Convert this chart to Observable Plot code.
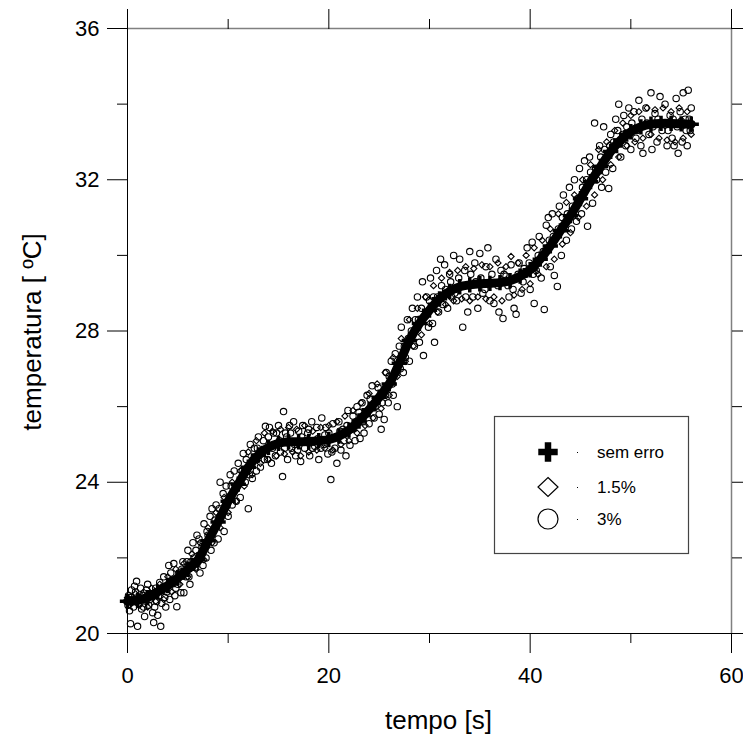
<!DOCTYPE html>
<html><head><meta charset="utf-8">
<script src="https://cdn.jsdelivr.net/npm/d3@7"></script>
<script src="https://cdn.jsdelivr.net/npm/@observablehq/plot@0.6"></script>
<style>body{margin:0;background:#fff;} #chart{width:743px;height:736px;}</style>
</head><body><div id="chart"></div>
<script>
// "sem erro" curve: time [s] and temperature [ºC]
const curveT = [0,1,2,3,4,5,6,7,8,9,10,11,12,13,14,15,16,17,18,19,20,21,22,23,24,25,26,27,28,29,30,31,32,33,34,35,36,37,38,39,40,41,42,43,44,45,46,47,48,49,50,51,52,53,54,55,56];
const curveV = [20.85,20.88,20.95,21.1,21.27,21.47,21.7,21.95,22.45,22.95,23.5,23.95,24.4,24.72,24.92,25.03,25.07,25.07,25.08,25.1,25.13,25.22,25.38,25.62,25.92,26.25,26.6,27.15,27.75,28.2,28.55,28.85,29.05,29.17,29.22,29.25,29.26,29.28,29.33,29.45,29.62,29.9,30.25,30.65,31.05,31.5,31.95,32.35,32.75,33.05,33.27,33.4,33.47,33.49,33.49,33.48,33.47];
// "3%" series (circles): [time, temperature]
const circles = [[0.1,21.0],[0.2,20.6],[0.3,20.26],[0.4,21.15],[0.5,20.9],[0.6,20.7],[0.8,21.1],[0.9,21.38],[1.0,20.19],[1.1,20.8],[1.3,21.2],[1.4,20.65],[1.5,21.0],[1.7,20.45],[1.8,20.9],[2.0,21.3],[2.1,20.75],[2.3,21.05],[2.5,20.55],[2.6,20.29],[2.8,21.2],[2.9,20.85],[3.0,20.48],[3.2,21.35],[3.3,20.19],[3.4,20.8],[3.6,21.5],[3.7,20.95],[3.9,21.1],[4.1,21.8],[4.2,20.9],[4.4,21.4],[4.6,21.85],[4.8,21.2],[4.9,20.71],[5.1,21.6],[5.3,21.08],[5.5,21.9],[5.6,21.08],[5.8,21.5],[6.0,22.2],[6.1,21.5],[6.3,21.9],[6.5,22.4],[6.7,21.75],[6.9,22.6],[7.0,21.9],[7.2,21.6],[7.4,22.3],[7.6,22.9],[7.8,22.0],[8.0,22.6],[8.2,23.1],[8.4,23.3],[8.6,22.4],[8.8,23.4],[9.0,22.5],[9.2,24.0],[9.4,23.2],[9.6,22.7],[9.8,23.9],[10.0,23.1],[10.2,24.2],[10.4,23.4],[10.6,24.3],[10.8,23.5],[11.0,24.5],[11.2,23.6],[11.5,24.76],[11.7,24.0],[12.0,23.3],[12.2,25.0],[12.4,24.1],[12.6,24.9],[12.8,24.3],[13.0,25.2],[13.2,24.4],[13.5,25.1],[13.7,25.48],[13.9,24.6],[14.1,25.45],[14.3,24.5],[14.5,25.3],[14.7,24.7],[15.0,25.5],[15.2,24.8],[15.4,24.15],[15.5,25.87],[15.7,25.3],[15.9,24.6],[16.1,25.5],[16.3,24.9],[16.5,25.6],[16.7,24.7],[17.0,25.35],[17.2,24.55],[17.4,25.5],[17.6,24.9],[17.9,25.3],[18.1,24.7],[18.3,25.6],[18.6,24.95],[18.8,25.45],[19.0,24.6],[19.3,25.7],[19.5,25.0],[19.7,25.45],[19.9,24.75],[20.2,24.07],[20.4,25.55],[20.6,24.9],[20.8,24.5],[21.0,25.6],[21.2,24.85],[21.4,25.4],[21.7,24.7],[21.9,25.9],[22.1,24.98],[22.4,25.75],[22.6,25.1],[22.8,26.0],[23.1,25.16],[23.3,26.1],[23.5,25.3],[23.8,26.3],[24.0,25.55],[24.3,26.55],[24.5,25.7],[24.8,26.2],[25.0,25.8],[25.2,25.4],[25.5,25.66],[25.7,26.9],[25.9,26.1],[26.2,27.2],[26.4,26.3],[26.6,27.4],[26.8,26.0],[27.0,27.6],[27.2,28.1],[27.4,26.9],[27.6,27.3],[27.8,28.3],[28.0,27.2],[28.3,28.6],[28.5,27.6],[28.8,28.9],[29.0,27.7],[29.3,29.3],[29.4,27.35],[29.7,28.9],[29.9,28.1],[30.1,29.4],[30.3,28.2],[30.5,27.7],[30.7,29.6],[30.9,28.5],[31.1,29.9],[31.3,28.7],[31.5,29.75],[31.8,28.6],[32.0,29.5],[32.2,28.9],[32.4,30.0],[32.7,28.8],[33.0,29.9],[33.3,28.1],[33.5,29.6],[33.8,28.5],[34.0,30.1],[34.3,28.9],[34.5,29.8],[34.8,28.6],[35.0,30.05],[35.3,29.0],[35.6,29.7],[35.8,30.2],[36.0,28.8],[36.4,28.73],[36.6,29.9],[36.9,28.5],[37.1,29.6],[37.3,28.33],[37.6,29.45],[37.9,28.9],[38.1,29.75],[38.4,28.6],[38.6,28.44],[38.9,29.8],[39.1,29.0],[39.4,29.65],[39.7,30.2],[40.0,29.1],[40.2,30.35],[40.4,28.73],[40.6,29.6],[40.9,30.5],[41.1,29.4],[41.4,28.57],[41.6,30.8],[41.8,31.0],[42.0,29.7],[42.2,31.1],[42.4,29.47],[42.7,29.18],[42.9,31.3],[43.1,30.0],[43.3,31.6],[43.6,30.4],[43.9,31.8],[44.1,30.7],[44.4,32.0],[44.6,30.9],[44.9,32.3],[45.1,31.1],[45.4,32.5],[45.7,30.77],[45.9,32.6],[46.2,31.38],[46.4,33.5],[46.6,32.0],[46.9,32.9],[47.1,31.8],[47.3,33.4],[47.5,32.2],[47.8,31.77],[48.0,33.2],[48.2,32.3],[48.5,33.6],[48.8,34.0],[49.0,32.6],[49.3,33.7],[49.5,32.9],[49.8,33.9],[50.0,32.8],[50.3,33.8],[50.5,33.1],[50.8,34.1],[51.0,32.9],[51.2,32.7],[51.5,33.9],[51.8,33.2],[52.0,34.3],[52.1,32.8],[52.4,33.75],[52.6,33.0],[52.9,34.2],[53.1,33.3],[53.4,34.0],[53.6,32.9],[53.9,33.7],[54.1,33.1],[54.3,32.9],[54.5,34.15],[54.7,32.7],[54.9,33.8],[55.1,33.0],[55.2,34.3],[55.4,33.6],[55.6,32.9],[55.7,34.37],[55.9,33.3],[56.0,33.9],
[0.05,20.75],[0.35,20.95],[0.7,21.25],[1.2,20.95],[1.6,20.7],[1.9,21.15],[2.2,20.9],[2.7,20.7],[3.1,21.0],[3.5,21.2],[3.8,20.7],[4.3,21.6],[4.7,21.0],[5.0,21.3],[5.4,21.7],[5.9,21.9],[6.2,21.3],[6.6,22.0],[6.8,22.2],[7.1,22.5],[7.5,21.8],[7.9,22.7],[8.3,22.2],[8.7,23.0],[9.1,23.3],[9.5,23.7],[9.9,23.4],[10.3,23.9],[10.7,23.9],[11.1,24.0],[11.4,24.3],[11.8,24.6],[12.1,24.2],[12.5,24.6],[12.9,24.9],[13.3,24.8],[13.6,24.6],[14.0,25.2],[14.4,24.9],[14.8,25.3],[15.1,25.1],[15.6,24.9],[15.8,25.2],[16.2,25.3],[16.6,25.0],[16.9,24.85],[17.3,25.2],[17.7,25.1],[18.0,25.4],[18.4,24.9],[18.9,25.15],[19.2,24.9],[19.6,25.25],[20.0,25.3],[20.3,24.8],[20.7,25.2],[21.1,25.35],[21.5,25.1],[21.8,25.5],[22.3,25.4],[22.7,25.6],[23.0,25.85],[23.4,25.6],[23.7,25.8],[24.1,26.2],[24.6,26.0],[24.9,26.5],[25.3,26.1],[25.6,26.3],[26.0,26.8],[26.3,26.6],[26.7,26.9],[27.1,27.0],[27.5,27.6],[27.9,27.8],[28.2,28.0],[28.6,28.3],[28.9,28.3],[29.2,28.6],[29.6,28.4],[30.0,28.8],[30.4,28.9],[30.8,28.9],[31.2,29.2],[31.6,29.1],[32.1,29.3],[32.5,29.0],[32.9,29.4],[33.2,29.2],[33.6,28.9],[34.1,29.5],[34.6,29.3],[35.1,29.4],[35.5,29.1],[36.2,29.5],[36.8,29.2],[37.4,29.5],[37.8,29.2],[38.3,29.1],[38.8,29.5],[39.3,29.3],[39.9,29.8],[40.3,29.5],[40.8,30.0],[41.3,30.1],[41.9,30.4],[42.3,30.5],[42.8,30.7],[43.2,31.0],[43.7,31.1],[44.2,31.3],[44.7,31.5],[45.2,31.8],[45.6,32.0],[46.0,32.2],[46.5,32.3],[47.0,32.6],[47.4,32.8],[47.9,32.9],[48.3,33.0],[48.7,33.3],[49.2,33.2],[49.6,33.4],[50.1,33.5],[50.6,33.3],[51.1,33.6],[51.6,33.5],[52.2,33.4],[52.7,33.6],[53.2,33.5],[53.7,33.3],[54.2,33.6],[54.6,33.4],[55.0,33.55],[55.5,33.3],[55.8,33.6]];
// "1.5%" series (diamonds): [time, temperature]
const diamonds = [[0.0,20.95],[0.4,20.8],[0.8,21.05],[1.2,20.75],[1.6,21.1],[2.0,20.7],[2.4,21.2],[2.8,20.85],[3.2,21.3],[3.6,20.9],[4.0,21.5],[4.4,21.1],[4.8,21.7],[5.2,21.3],[5.6,21.85],[6.0,21.5],[6.4,22.1],[6.8,21.7],[7.2,22.4],[7.6,21.95],[8.0,22.8],[8.4,22.4],[8.8,23.2],[9.2,22.8],[9.6,23.6],[10.0,23.2],[10.4,24.0],[10.8,23.5],[11.2,24.3],[11.6,23.9],[12.0,24.8],[12.4,24.2],[12.8,25.1],[13.2,24.5],[13.6,25.3],[14.0,24.6],[14.4,25.35],[14.8,24.7],[15.2,25.4],[15.6,24.75],[16.0,25.45],[16.4,24.8],[16.8,25.4],[17.2,24.7],[17.6,25.5],[18.0,24.8],[18.4,25.35],[18.8,24.85],[19.2,25.45],[19.6,24.9],[20.0,25.5],[20.4,24.85],[20.8,25.6],[21.2,25.0],[21.6,25.75],[22.0,25.1],[22.4,25.9],[22.8,25.3],[23.2,26.1],[23.6,25.5],[24.0,26.35],[24.4,25.7],[24.8,26.6],[25.2,25.95],[25.6,26.9],[26.0,26.3],[26.4,27.3],[26.8,26.8],[27.2,27.8],[27.6,27.2],[28.0,28.3],[28.4,27.6],[28.8,28.6],[29.2,27.9],[29.6,28.9],[30.0,28.2],[30.4,29.2],[30.8,28.5],[31.2,29.4],[31.6,28.7],[32.0,29.55],[32.4,28.8],[32.8,29.6],[33.2,28.85],[33.6,29.7],[34.0,28.8],[34.4,29.65],[34.8,28.9],[35.2,29.75],[35.6,28.85],[36.0,29.7],[36.4,28.9],[36.8,29.8],[37.2,28.8],[37.6,29.7],[38.1,29.97],[38.4,28.95],[38.8,29.8],[39.2,29.1],[39.6,30.0],[40.0,29.25],[40.4,30.2],[40.8,29.5],[41.2,30.4],[41.6,29.7],[42.0,30.7],[42.4,29.9],[42.8,31.1],[43.2,30.3],[43.6,31.4],[44.0,30.6],[44.4,31.6],[44.8,31.0],[45.2,32.0],[45.6,31.3],[46.0,32.4],[46.4,31.6],[46.8,32.8],[47.2,32.0],[47.6,33.0],[48.0,32.4],[48.4,33.3],[48.8,32.6],[49.2,33.5],[49.6,32.9],[50.0,33.7],[50.4,33.0],[50.8,33.8],[51.2,33.1],[51.6,33.9],[52.0,33.2],[52.4,33.85],[52.8,33.1],[53.2,33.9],[53.6,33.05],[54.0,33.8],[54.4,33.0],[54.8,33.9],[55.2,33.1],[55.6,33.8],[56.0,33.2]];
const xMajor = [0,20,40,60];
const xMinor = [10,30,50];
const yMajor = [20,24,28,32,36];
const yMinor = [22,26,30,34];
const xTitle = "tempo [s]";
const yTitle = "temperatura [ ºC]";
const legendLabels = ["sem erro","1.5%","3%"];

const curve = curveT.map((t,i) => ({t, v: curveV[i]}));
const font = "'Liberation Sans', Arial, Helvetica, sans-serif";

const plot = Plot.plot({
  width: 743, height: 736,
  marginLeft: 127, marginRight: 12, marginTop: 28, marginBottom: 103,
  x: {domain: [0,60]},
  y: {domain: [20,36]},
  style: {fontFamily: font, background: "#fff", color: "#000", fontSize: "22px"},
  marks: [
    Plot.ruleY([36], {stroke: "#808080", strokeWidth: 1.5}),
    Plot.ruleX([60], {stroke: "#808080", strokeWidth: 1.5}),
    Plot.ruleY([20], {stroke: "#000"}),
    Plot.ruleX([0], {stroke: "#000"}),
    Plot.axisX({anchor: "bottom", ticks: xMajor, tickSize: 20, tickPadding: 14, label: null, fontSize: 22}),
    Plot.axisX({anchor: "bottom", ticks: xMinor, tickSize: 10, tickFormat: () => "", label: null}),
    Plot.axisX({anchor: "top", ticks: xMajor, tickSize: 20, tickFormat: () => "", label: null}),
    Plot.axisX({anchor: "top", ticks: xMinor, tickSize: 10, tickFormat: () => "", label: null}),
    Plot.axisY({anchor: "left", ticks: yMajor, tickSize: 20, tickPadding: 8, label: null, fontSize: 22}),
    Plot.axisY({anchor: "left", ticks: yMinor, tickSize: 10, tickFormat: () => "", label: null}),
    Plot.axisY({anchor: "right", ticks: yMajor, tickSize: 20, tickFormat: () => "", label: null}),
    Plot.axisY({anchor: "right", ticks: yMinor, tickSize: 10, tickFormat: () => "", label: null}),
    Plot.text([xTitle], {frameAnchor: "bottom", dx: 9, dy: 87, fontSize: 26, lineAnchor: "middle", textAnchor: "middle"}),
    Plot.text([yTitle], {frameAnchor: "left", dx: -95, dy: 1, rotate: -90, fontSize: 26, lineAnchor: "middle", textAnchor: "middle"}),
    Plot.dot(circles, {x: d => d[0], y: d => d[1], r: 3.2, symbol: "circle", fill: "none", stroke: "#000", strokeWidth: 1.1}),
    Plot.dot(diamonds, {x: d => d[0], y: d => d[1], r: 2.8, symbol: "diamond2", fill: "none", stroke: "#000", strokeWidth: 1.1}),
    Plot.line(curve, {x: "t", y: "v", curve: "catmull-rom", stroke: "#000", strokeWidth: 9}),
    Plot.dot(curve, {x: "t", y: "v", symbol: "plus", r: 5, stroke: "#000", strokeWidth: 3.5})
  ]
});
document.getElementById("chart").appendChild(plot);

// legend box
const svg = d3.select(plot);
const lg = svg.append("g").attr("font-family", font).attr("font-size", 17).attr("text-anchor", "start");
lg.append("rect").attr("x", 494.5).attr("y", 416.5).attr("width", 194).attr("height", 137)
  .attr("fill", "#fff").attr("stroke", "#444").attr("stroke-width", 1.2);
const rows = [452, 487, 519];
lg.append("path").attr("d", d3.symbol(d3.symbolCross, 210)()).attr("transform", `translate(548,${rows[0]})`).attr("fill", "#000");
lg.append("path").attr("d", "M0,-9.5L10,0L0,9.5L-10,0Z").attr("transform", `translate(548,${rows[1]})`).attr("fill", "none").attr("stroke", "#000").attr("stroke-width", 1.2);
lg.append("circle").attr("cx", 548).attr("cy", rows[2]).attr("r", 10).attr("fill", "none").attr("stroke", "#000").attr("stroke-width", 1.2);
rows.forEach((y, i) => {
  lg.append("rect").attr("x", 577).attr("y", y).attr("width", 1).attr("height", 1).attr("fill", "#000");
  lg.append("text").attr("x", 597).attr("y", y).attr("dy", "0.35em").attr("text-anchor", "start").text(legendLabels[i]);
});
</script></body></html>
